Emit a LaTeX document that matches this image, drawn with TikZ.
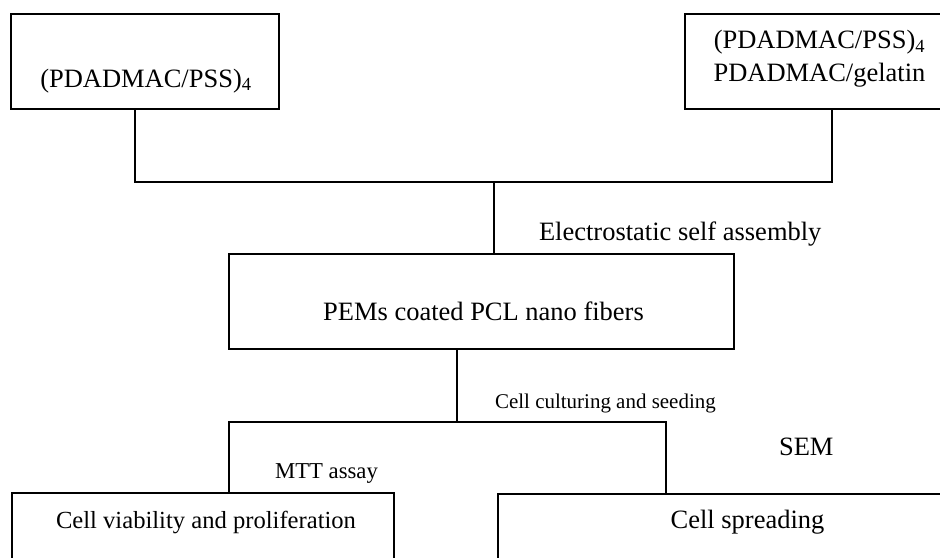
\documentclass[tikz,border=0pt]{standalone}
\usepackage{fontspec}
\setmainfont{Liberation Serif}
\begin{document}
\begin{tikzpicture}[x=0.03cm, y=-0.03cm, line width=1.8pt,
    stepbox/.style={draw, rectangle, inner sep=0pt, minimum height=2.85cm},
    boxtext/.style={font=\fontsize{22.6}{28}\selectfont, inner sep=0pt},
    steplabel/.style={anchor=base west, inner sep=0pt}]
  % frame
  \useasboundingbox (0,0) rectangle (940,558);
  \clip (0,0) rectangle (940,558);

  % starting layers
  \node[stepbox, minimum width=8.04cm] (layA) at (145,61.5) {};
  \node[boxtext, anchor=base] at (146,87) {(PDADMAC/PSS)\textsubscript{4}};
  \node[stepbox, minimum width=8.25cm] (layB) at (822.5,61.5) {};
  \node[boxtext, align=center] at (819.5,59) {(PDADMAC/PSS)\textsubscript{4}\\PDADMAC/gelatin};

  % coated fibres
  \node[stepbox, minimum width=15.15cm] (coat) at (481.5,301.5) {};
  \node[boxtext, anchor=base] at (483.5,320) {PEMs coated PCL nano fibers};

  % tests
  \node[stepbox, minimum width=11.46cm, minimum height=3.21cm] (viab) at (203,546.5) {};
  \node[boxtext, anchor=base, font=\fontsize{21}{25}\selectfont] at (206,528) {Cell viability and proliferation};
  \node[stepbox, minimum width=13.86cm, minimum height=3.18cm] (spread) at (729,547) {};
  \node[boxtext, anchor=base] at (747.5,528) {Cell spreading};

  % junctions
  \coordinate (jA) at (135,182);
  \coordinate (jB) at (832,182);
  \coordinate (jM) at (494,182);
  \coordinate (kM) at (457,422);
  \coordinate (kA) at (229,422);
  \coordinate (kB) at (666,422);

  % connectors
  \draw (layA.south -| jA) -- (jA) -- (jB) -- (layB.south -| jB);
  \draw (jM) -- (jM |- coat.north);
  \draw (coat.south -| kM) -- (kM);
  \draw (kA |- viab.north) -- (kA) -- (kB) -- (kB |- spread.north);

  % step labels
  \node[steplabel, font=\fontsize{22.6}{28}\selectfont] (esa) at (538,240) {Electrostatic self assembly};
  \node[steplabel, font=\fontsize{17.9}{22}\selectfont] (ccs) at (494,408) {Cell culturing and seeding};
  \node[steplabel, font=\fontsize{19.4}{23}\selectfont] (mtt) at (274,478) {MTT assay};
  \node[steplabel, font=\fontsize{22.6}{28}\selectfont] (sem) at (778,455) {SEM};
\end{tikzpicture}
\end{document}
